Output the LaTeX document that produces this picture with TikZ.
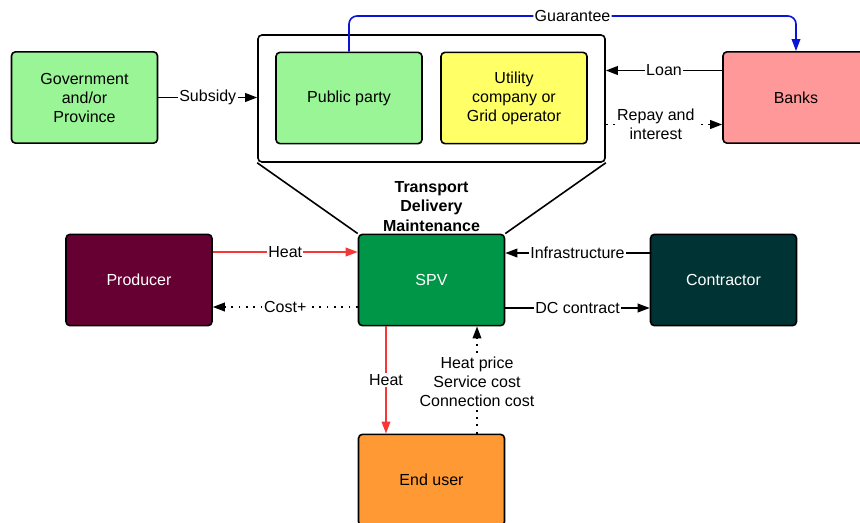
\documentclass[tikz,border=0pt]{standalone}
\usepackage{fontspec}
\setmainfont{Liberation Sans}
\usetikzlibrary{arrows.meta,calc}
\tikzset{every picture/.style={line width=1.2pt}}

\definecolor{govgreen}{RGB}{154,245,150}
\definecolor{utilyellow}{RGB}{255,255,102}
\definecolor{bankpink}{RGB}{255,153,153}
\definecolor{spvgreen}{RGB}{0,150,72}
\definecolor{prodred}{RGB}{102,0,51}
\definecolor{contrgreen}{RGB}{0,51,51}
\definecolor{userorange}{RGB}{255,153,51}
\definecolor{heatred}{RGB}{245,55,55}
\definecolor{guarblue}{RGB}{10,20,215}

\tikzset{
  box/.style={draw, rounded corners=3pt, minimum width=109.5pt, minimum height=68.5pt,
    align=center, inner sep=2pt, font=\fontsize{12}{14.25}\selectfont},
  lbl/.style={fill=white, inner sep=1pt, align=center, font=\fontsize{12}{14.25}\selectfont},
  tip/.style={-{Triangle[length=9pt,width=6.5pt]}},
  dots/.style={dash pattern=on 1.3pt off 4.2pt},
}

\begin{document}
\begin{tikzpicture}[x=0.75pt,y=0.75pt,yscale=-1,xscale=1]
\useasboundingbox (0,0) rectangle (860,522);

%Shape: Rectangle [id:frame]
\node [draw, rounded corners=3pt, minimum width=260.25pt, minimum height=95.25pt] (frame) at (431.5,98.5) {};
%Shape: Rectangle [id:gov]
\node [box, fill=govgreen] (gov) at (84.5,97.5) {Government\\and/or\\Province};
%Shape: Rectangle [id:pub]
\node [box, fill=govgreen] (pub) at (349,98) {Public party};
%Shape: Rectangle [id:util]
\node [box, fill=utilyellow] (util) at (514,98) {Utility\\company or\\Grid operator};
%Shape: Rectangle [id:banks]
\node [box, fill=bankpink] (banks) at (796,97.5) {Banks};
%Shape: Rectangle [id:prod]
\node [box, fill=prodred, text=white] (prod) at (139,280) {Producer};
%Shape: Rectangle [id:spv]
\node [box, fill=spvgreen, text=white] (spv) at (431.5,280) {SPV};
%Shape: Rectangle [id:contr]
\node [box, fill=contrgreen, text=white] (contr) at (723.5,280) {Contractor};
%Shape: Rectangle [id:user]
\node [box, fill=userorange] (user) at (431.5,480) {End user};

% Text Node
\node [align=center, font=\fontsize{12}{14.5}\selectfont\bfseries] (tdm) at (431.5,206.5) {Transport\\Delivery\\Maintenance};

%Straight Lines [id:funnel]
\draw (frame.south west) -- (spv.north west);
\draw (frame.south east) -- (spv.north east);

%Straight Lines [id:subsidy]
\draw [tip] (gov.east) -- node [lbl] {Subsidy} (gov.east -| frame.west);
%Straight Lines [id:loan]
\coordinate (loan) at ($(banks.west)+(0,-27)$);
\draw [tip] (loan) -- node [lbl] {Loan} (loan -| frame.east);
%Straight Lines [id:repay]
\coordinate (repay) at ($(banks.west)+(0,27)$);
\draw [tip, dots] (repay -| frame.east) -- node [lbl, pos=0.43] {Repay and\\interest} (repay);
%Curve Lines [id:guarantee]
\coordinate (gtop) at (796,16);
\draw [guarblue, tip, rounded corners=6pt] (pub.north) |- node [lbl, text=black, pos=0.75] {Guarantee} (gtop) -- (banks.north);

%Straight Lines [id:heatin]
\draw [heatred, tip] ($(prod.east)+(0,-28)$) -- node [lbl, text=black] {Heat} ($(spv.west)+(0,-28)$);
%Straight Lines [id:cost]
\draw [tip, dots] ($(spv.west)+(0,27)$) -- node [lbl] {Cost+} ($(prod.east)+(0,27)$);
%Straight Lines [id:infra]
\draw [tip] ($(contr.west)+(0,-27)$) -- node [lbl] {Infrastructure} ($(spv.east)+(0,-27)$);
%Straight Lines [id:dc]
\draw [tip] ($(spv.east)+(0,28)$) -- node [lbl] {DC contract} ($(contr.west)+(0,28)$);

%Straight Lines [id:heatout]
\draw [heatred, tip] ($(spv.south)+(-45.5,0)$) -- node [lbl, text=black] {Heat} ($(user.north)+(-45.5,0)$);
%Straight Lines [id:price]
\draw [tip, dots] ($(user.north)+(45.5,0)$) -- node [lbl, pos=0.48] {Heat price\\Service cost\\Connection cost} ($(spv.south)+(45.5,0)$);

\end{tikzpicture}
\end{document}
